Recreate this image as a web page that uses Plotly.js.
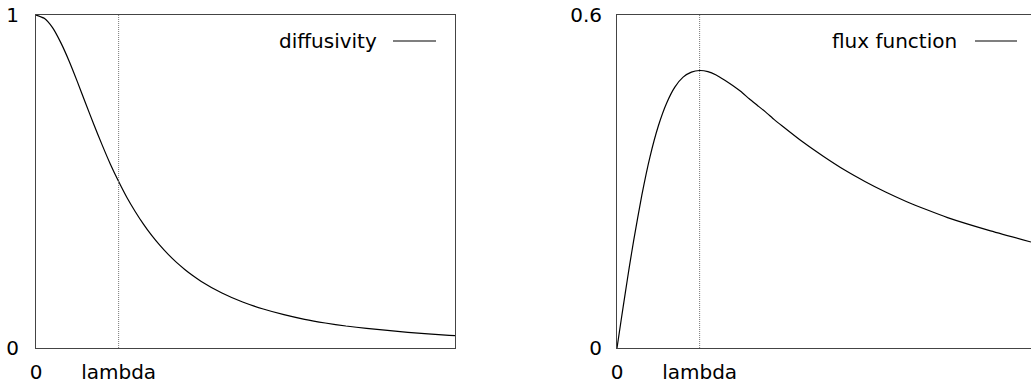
<!DOCTYPE html>
<html>
<head>
<meta charset="utf-8">
<script src="https://cdn.plot.ly/plotly-3.0.1.min.js"></script>
<style>html,body{margin:0;padding:0;background:#fff;}#chart{width:1031px;height:385px;}</style>
</head>
<body>
<div id="chart"></div>
<script>
// values (x in units of lambda)
const lambdaValue = 1;
const xDiff = [0, 0.1, 0.2, 0.3, 0.4, 0.5, 0.6, 0.7, 0.8, 0.9, 1, 1.1, 1.2, 1.3, 1.4, 1.5, 1.6, 1.7, 1.8, 1.9, 2, 2.25, 2.5, 2.75, 3, 3.25, 3.5, 3.75, 4, 4.5, 5, 5.07];
const diffusivity = [1, 0.99, 0.962, 0.917, 0.862, 0.80, 0.735, 0.671, 0.61, 0.552, 0.50, 0.452, 0.41, 0.372, 0.338, 0.308, 0.281, 0.257, 0.236, 0.217, 0.20, 0.165, 0.138, 0.117, 0.10, 0.086, 0.075, 0.066, 0.059, 0.047, 0.038, 0.037];
const xFlux = [0, 0.05, 0.1, 0.15, 0.2, 0.3, 0.4, 0.5, 0.6, 0.7, 0.8, 0.9, 1, 1.1, 1.2, 1.3, 1.4, 1.5, 1.6, 1.7, 1.8, 1.9, 2, 2.25, 2.5, 2.75, 3, 3.25, 3.5, 3.75, 4, 4.5, 5.01];
const flux = [0, 0.05, 0.099, 0.147, 0.192, 0.275, 0.345, 0.40, 0.441, 0.47, 0.488, 0.497, 0.50, 0.498, 0.492, 0.483, 0.473, 0.462, 0.449, 0.437, 0.425, 0.412, 0.40, 0.371, 0.345, 0.321, 0.30, 0.281, 0.264, 0.249, 0.235, 0.212, 0.191];
const xTickVals = [0, lambdaValue];
const xTickText = ['0', 'lambda'];
const legendLeft = 'diffusivity';
const legendRight = 'flux function';

const font = {family: 'DejaVu Sans, Liberation Sans, sans-serif', size: 20, color: '#000'};
const W = 1031, ML = 36;
const px = p => (p - ML) / (W - ML);
const axisCommon = {showgrid: false, zeroline: false, ticks: '', showline: true, linecolor: '#444', linewidth: 1, tickfont: font, fixedrange: true};
const curveLine = {color: '#000', width: 1.2, shape: 'spline', smoothing: 0.5};

const traces = [
  {x: xDiff, y: diffusivity, xaxis: 'x', yaxis: 'y', mode: 'lines', line: curveLine, showlegend: false, hoverinfo: 'skip'},
  {x: xFlux, y: flux, xaxis: 'x2', yaxis: 'y2', mode: 'lines', line: curveLine, showlegend: false, hoverinfo: 'skip'}
];

const legY = 1 - (41 - 15) / 333;
const layout = {
  width: 1031, height: 385,
  margin: {l: ML, r: 0, t: 15, b: 37},
  paper_bgcolor: '#fff', plot_bgcolor: '#fff',
  font: font,
  showlegend: false,
  xaxis: Object.assign({}, axisCommon, {domain: [0, px(455)], range: [0, 5.07], tickvals: xTickVals, ticktext: xTickText, mirror: true, ticklabelstandoff: 6}),
  yaxis: Object.assign({}, axisCommon, {domain: [0, 1], range: [0, 1], tickvals: [0, 1], ticktext: ['0', '1'], mirror: true, ticklabelstandoff: 12}),
  xaxis2: Object.assign({}, axisCommon, {domain: [px(617), 1], range: [0, 5.01], tickvals: xTickVals, ticktext: xTickText, mirror: true, anchor: 'y2', ticklabelstandoff: 6}),
  yaxis2: Object.assign({}, axisCommon, {domain: [0, 1], range: [0, 0.6], tickvals: [0, 0.6], ticktext: ['0', '0.6'], mirror: false, anchor: 'x2', ticklabelstandoff: 10}),
  shapes: [
    {type: 'line', xref: 'x', yref: 'y', x0: lambdaValue, x1: lambdaValue, y0: 0, y1: 1, line: {color: '#777', width: 1, dash: '1px,1px'}},
    {type: 'line', xref: 'x2', yref: 'y2', x0: lambdaValue, x1: lambdaValue, y0: 0, y1: 0.6, line: {color: '#777', width: 1, dash: '1px,1px'}},
    {type: 'line', xref: 'paper', yref: 'paper', x0: px(393), x1: px(436), y0: legY, y1: legY, line: {color: '#000', width: 1.2}},
    {type: 'line', xref: 'paper', yref: 'paper', x0: px(975), x1: px(1017), y0: legY, y1: legY, line: {color: '#000', width: 1.2}}
  ],
  annotations: [
    {xref: 'paper', yref: 'paper', x: px(379), y: legY, xanchor: 'right', yanchor: 'middle', text: legendLeft, showarrow: false, font: font},
    {xref: 'paper', yref: 'paper', x: px(959), y: legY, xanchor: 'right', yanchor: 'middle', text: legendRight, showarrow: false, font: font}
  ]
};

Plotly.newPlot('chart', traces, layout, {staticPlot: true, displayModeBar: false});
</script>
</body>
</html>
